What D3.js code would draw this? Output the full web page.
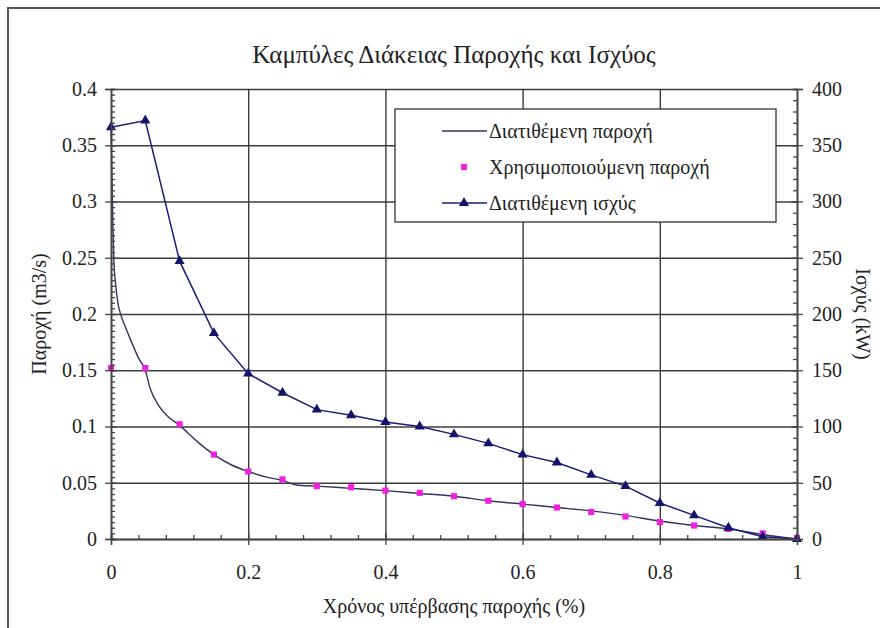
<!DOCTYPE html>
<html>

<head>
  <meta charset="utf-8">
  <title>Flow duration</title>
  <script src="https://cdn.jsdelivr.net/npm/d3@7"></script>
  <style>
    body { margin: 0; background: #fff; }
  </style>
</head>

<body>
  <svg width="880" height="628" id="mainsvg"></svg>
  <script>
    // exceedance time (x) of the marker series
    const xPoints = [0, 0.05, 0.1, 0.15, 0.2, 0.25, 0.3, 0.35, 0.4, 0.45, 0.5,
      0.55, 0.6, 0.65, 0.7, 0.75, 0.8, 0.85, 0.9, 0.95, 1];
    // Χρησιμοποιούμενη παροχή (m3/s)
    const usedFlow = [0.152, 0.152, 0.102, 0.075, 0.060, 0.053, 0.047, 0.046, 0.043, 0.041, 0.038,
      0.034, 0.031, 0.028, 0.024, 0.020, 0.015, 0.012, 0.009, 0.005, 0.001];
    // Διατιθέμενη ισχύς (kW)
    const power = [366, 372, 247, 183, 147, 130, 115, 110, 104, 100, 93,
      85, 75, 68, 57, 47, 32, 21, 10, 2, 0];
    // Διατιθέμενη παροχή (line only)
    const flowX = [0, 0.002, 0.004, 0.007, 0.01, 0.015, 0.02, 0.03, 0.04, 0.05, 0.057, 0.069, 0.081,
      0.1, 0.125, 0.15, 0.175, 0.2, 0.227, 0.25, 0.27, 0.3, 0.35, 0.4, 0.45, 0.5,
      0.55, 0.6, 0.65, 0.7, 0.75, 0.8, 0.85, 0.9, 0.95, 1];
    const flowY = [0.365, 0.30, 0.25, 0.225, 0.21, 0.198, 0.19, 0.175, 0.161, 0.15, 0.134, 0.119, 0.110,
      0.101, 0.087, 0.075, 0.066, 0.060, 0.055, 0.052, 0.048, 0.047, 0.045, 0.043, 0.0405, 0.038,
      0.034, 0.031, 0.028, 0.025, 0.021, 0.016, 0.012, 0.009, 0.004, 0];

    const xTicks = [0, 0.2, 0.4, 0.6, 0.8, 1];
    const leftTicks = [0, 0.05, 0.1, 0.15, 0.2, 0.25, 0.3, 0.35, 0.4];
    const rightTicks = [0, 50, 100, 150, 200, 250, 300, 350, 400];

    const FONT = "'Liberation Serif', 'Times New Roman', 'DejaVu Serif', serif";

    const svg = d3.select('#mainsvg');
    const width = +svg.attr('width');
    const height = +svg.attr('height');
    const margin = { top: 89, right: 83, bottom: 89, left: 111 };
    const innerWidth = width - margin.left - margin.right;
    const innerHeight = height - margin.top - margin.bottom;

    const xScale = d3.scaleLinear().domain([0, 1]).range([0, innerWidth]);
    const yLeft = d3.scaleLinear().domain([0, 0.4]).range([innerHeight, 0]);
    const yRight = d3.scaleLinear().domain([0, 400]).range([innerHeight, 0]);

    // outer chart frame (only left and top edges show in the picture)
    svg.append('path')
      .attr('d', `M8,${height} V8 H${width}`)
      .attr('fill', 'none').attr('stroke', '#555').attr('stroke-width', 2);

    const g = svg.append('g')
      .attr('transform', `translate(${margin.left}, ${margin.top})`);

    // grid lines
    const hGrid = g.append('g').call(d3.axisLeft(yLeft).tickValues(leftTicks).tickSize(-innerWidth).tickFormat(''));
    const vGrid = g.append('g').attr('transform', `translate(0, ${innerHeight})`)
      .call(d3.axisBottom(xScale).tickValues(xTicks).tickSize(-innerHeight).tickFormat(''));
    [hGrid, vGrid].forEach(grid => {
      grid.selectAll('.domain').remove();
      grid.selectAll('text').remove();
      grid.selectAll('line').attr('stroke', '#3c3c3c').attr('stroke-width', 1.4);
    });

    // available flow line
    const flowLine = d3.line()
      .x((d, i) => xScale(flowX[i]))
      .y(d => yLeft(d))
      .curve(d3.curveMonotoneX);
    g.append('path')
      .attr('d', flowLine(flowY))
      .attr('fill', 'none').attr('stroke', '#34345e').attr('stroke-width', 1.4);

    // used flow markers
    const square = d3.symbol().type(d3.symbolSquare).size(38);
    g.selectAll('.used')
      .data(usedFlow)
      .enter().append('path')
      .attr('class', 'used')
      .attr('d', square)
      .attr('transform', (d, i) => `translate(${xScale(xPoints[i])}, ${yLeft(d)})`)
      .attr('fill', '#f020e0');

    // available power line + triangles
    const powerLine = d3.line()
      .x((d, i) => xScale(xPoints[i]))
      .y(d => yRight(d));
    g.append('path')
      .attr('d', powerLine(power))
      .attr('fill', 'none').attr('stroke', '#1c1c78').attr('stroke-width', 1.5);
    const tri = d3.symbol().type(d3.symbolTriangle).size(45);
    g.selectAll('.pow')
      .data(power)
      .enter().append('path')
      .attr('class', 'pow')
      .attr('d', tri)
      .attr('transform', (d, i) => `translate(${xScale(xPoints[i])}, ${yRight(d)})`)
      .attr('fill', '#14146a');

    // axes
    const styleAxis = (ag) => {
      ag.attr('font-family', FONT);
      ag.selectAll('.domain').attr('stroke', '#444').attr('stroke-width', 1.4);
      ag.selectAll('line').attr('stroke', '#444').attr('stroke-width', 1.3);
      ag.selectAll('text').attr('font-size', 20).attr('font-family', FONT).attr('fill', '#222');
    };
    // minor ticks carry no labels
    const minorOnly = (ag) => { ag.call(styleAxis); ag.selectAll('text').remove(); };
    const minorLeft = d3.range(0, 81).map(i => i * 0.005);
    const minorRight = d3.range(0, 41).map(i => i * 10);
    const minorX = d3.range(0, 26).map(i => i * 0.04);

    g.append('g').call(d3.axisLeft(yLeft).tickValues(minorLeft).tickSize(-4).tickFormat(''))
      .call(minorOnly);
    const leftAxis = g.append('g')
      .call(d3.axisLeft(yLeft).tickValues(leftTicks).tickSize(6).tickPadding(8).tickFormat(d => String(d)))
      .call(styleAxis);
    leftAxis.selectAll('.tick line').attr('x1', 6);

    g.append('g').attr('transform', `translate(${innerWidth}, 0)`)
      .call(d3.axisRight(yRight).tickValues(minorRight).tickSize(-4).tickFormat(''))
      .call(minorOnly);
    const rightAxis = g.append('g').attr('transform', `translate(${innerWidth}, 0)`)
      .call(d3.axisRight(yRight).tickValues(rightTicks).tickSize(6).tickPadding(9))
      .call(styleAxis);
    rightAxis.selectAll('.tick line').attr('x1', -6);

    g.append('g').attr('transform', `translate(0, ${innerHeight})`)
      .call(d3.axisBottom(xScale).tickValues(minorX).tickSize(-4).tickFormat(''))
      .call(minorOnly);
    const xAxis = g.append('g').attr('transform', `translate(0, ${innerHeight})`)
      .call(d3.axisBottom(xScale).tickValues(xTicks).tickSize(6).tickPadding(20).tickFormat(d => String(d)))
      .call(styleAxis);
    xAxis.selectAll('.tick line').attr('y1', -6);

    // titles
    const addText = (sel) => sel.append('text').attr('font-family', FONT).attr('fill', '#222');
    addText(svg)
      .attr('x', margin.left + innerWidth / 2).attr('y', 63)
      .attr('text-anchor', 'middle').attr('font-size', 25)
      .text('Καμπύλες Διάκειας Παροχής και Ισχύος');
    addText(svg)
      .attr('x', margin.left + innerWidth / 2).attr('y', 613)
      .attr('text-anchor', 'middle').attr('font-size', 20)
      .text('Χρόνος υπέρβασης παροχής (%)');
    addText(svg)
      .attr('transform', `translate(46, ${margin.top + innerHeight / 2}) rotate(-90)`)
      .attr('text-anchor', 'middle').attr('font-size', 20)
      .text('Παροχή (m3/s)');
    addText(svg)
      .attr('transform', `translate(856, ${margin.top + innerHeight / 2}) rotate(90)`)
      .attr('text-anchor', 'middle').attr('font-size', 20)
      .text('Ισχύς (kW)');

    // legend
    const legend = svg.append('g').attr('transform', 'translate(395, 109)');
    legend.append('rect')
      .attr('width', 381).attr('height', 113)
      .attr('fill', '#fff').attr('stroke', '#333').attr('stroke-width', 1.3);
    const legendNames = ['Διατιθέμενη παροχή', 'Χρησιμοποιούμενη παροχή', 'Διατιθέμενη ισχύς'];
    const rowY = (i) => 22 + i * 36;
    legend.append('line')
      .attr('x1', 47).attr('x2', 92).attr('y1', rowY(0)).attr('y2', rowY(0))
      .attr('stroke', '#34345e').attr('stroke-width', 1.4);
    legend.append('path').attr('d', square)
      .attr('transform', `translate(69, ${rowY(1)})`).attr('fill', '#f020e0');
    legend.append('line')
      .attr('x1', 47).attr('x2', 92).attr('y1', rowY(2)).attr('y2', rowY(2))
      .attr('stroke', '#1c1c78').attr('stroke-width', 1.5);
    legend.append('path').attr('d', tri)
      .attr('transform', `translate(69, ${rowY(2)})`).attr('fill', '#14146a');
    legend.selectAll('.ltext')
      .data(legendNames)
      .enter().append('text')
      .attr('class', 'ltext')
      .attr('font-family', FONT).attr('fill', '#222')
      .attr('x', 94).attr('y', (d, i) => rowY(i))
      .attr('dy', '0.33em').attr('font-size', 20)
      .text(d => d);
  </script>
</body>

</html>
